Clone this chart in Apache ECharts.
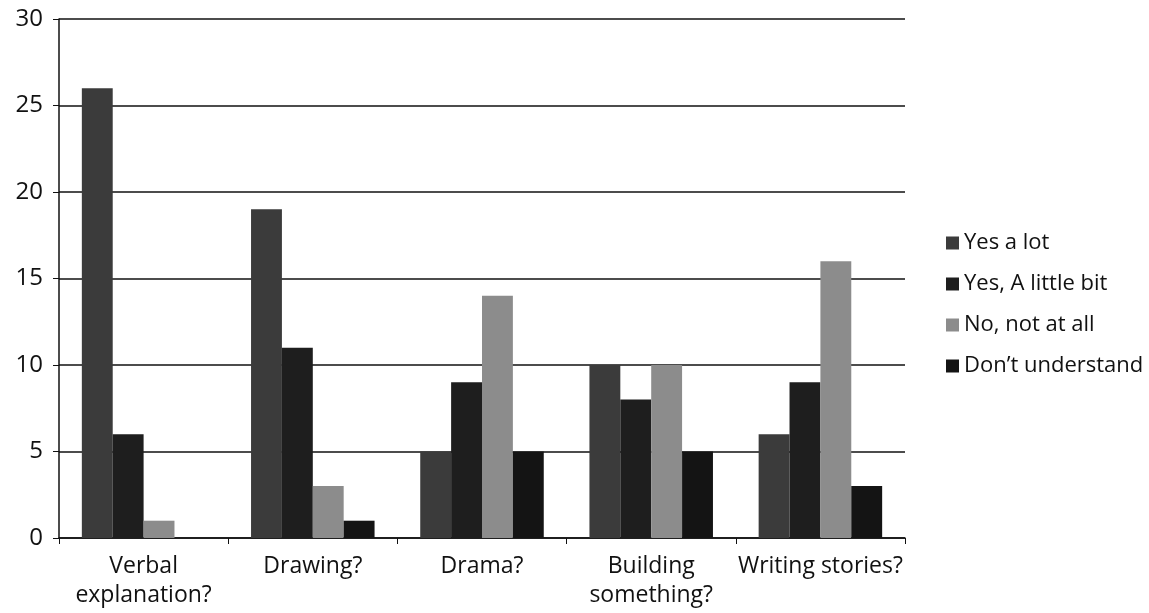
<!DOCTYPE html>
<html>
<head>
<meta charset="utf-8">
<script src="https://cdn.jsdelivr.net/npm/echarts@6/dist/echarts.min.js"></script>
<style>
    html, body { margin: 0; padding: 0; background: #fff; }
    #chart { width: 1149px; height: 613px; }
</style>
</head>
<body>
<div id="chart"></div>
<script>
    var categories = ['Verbal\nexplanation?', 'Drawing?', 'Drama?', 'Building\nsomething?', 'Writing stories?'];
    var seriesNames = ['Yes a lot', 'Yes, A little bit', 'No, not at all', 'Don\u2019t understand'];
    var yesALot = [26, 19, 5, 10, 6];
    var yesALittle = [6, 11, 9, 8, 9];
    var noNotAtAll = [1, 3, 14, 10, 16];
    var dontUnderstand = [0, 1, 5, 5, 3];
    var colors = ['#3b3b3b', '#1e1e1e', '#8c8c8c', '#141414'];

    var chart = echarts.init(document.getElementById('chart'));
    var font = '"Open Sans", "DejaVu Sans", sans-serif';
    var values = [yesALot, yesALittle, noNotAtAll, dontUnderstand];

    var option = {
        backgroundColor: '#fff',
        animation: false,
        color: colors,
        textStyle: { fontFamily: font },
        grid: { left: 59, right: 244, top: 19, bottom: 75 },
        legend: {
            orient: 'vertical',
            left: 941,
            top: 227,
            itemWidth: 13,
            itemHeight: 13,
            itemGap: 19,
            icon: 'rect',
            textStyle: { fontSize: 22, color: '#111', fontFamily: font },
            data: seriesNames
        },
        xAxis: {
            type: 'category',
            data: categories,
            axisLine: { lineStyle: { color: '#111', width: 1.5 } },
            axisTick: { show: true, length: 6, lineStyle: { color: '#111' } },
            axisLabel: { fontSize: 23, color: '#111', margin: 14, lineHeight: 29, interval: 0 }
        },
        yAxis: {
            type: 'value',
            min: 0,
            max: 30,
            interval: 5,
            axisLine: { show: true, lineStyle: { color: '#111', width: 1.5 } },
            axisTick: { show: true, length: 6, lineStyle: { color: '#111' } },
            axisLabel: { fontSize: 24, color: '#111', margin: 16 },
            splitLine: { lineStyle: { color: '#111', width: 1.5 } }
        },
        series: seriesNames.map(function (name, i) {
            return {
                name: name,
                type: 'bar',
                barGap: 0,
                barCategoryGap: '27%',
                data: values[i]
            };
        })
    };
    chart.setOption(option);
</script>
</body>
</html>
